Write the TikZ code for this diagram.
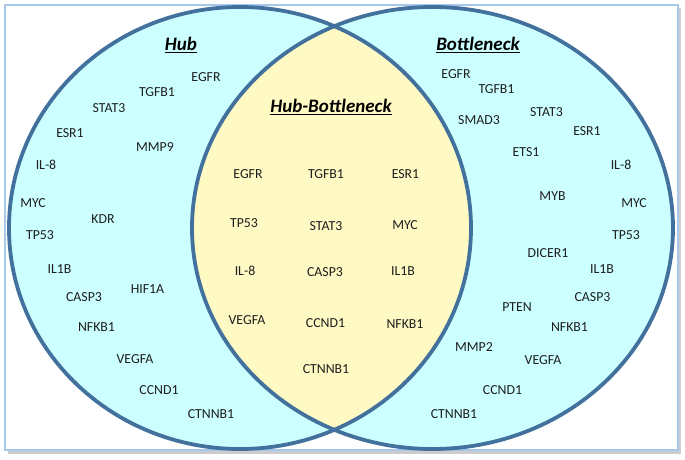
\documentclass[tikz,border=0pt]{standalone}
\usepackage{fontspec}
\setmainfont{Carlito}
\definecolor{ring}{RGB}{65,113,156}
\definecolor{cyanfill}{RGB}{204,255,255}
\definecolor{yellowfill}{RGB}{255,250,196}
\definecolor{framecol}{RGB}{166,200,234}
\definecolor{shadowcol}{RGB}{170,170,175}
\definecolor{textcol}{RGB}{30,30,30}
\newcommand{\titleul}[1]{\leavevmode\setbox0=\hbox{#1}\rlap{\rule[-3pt]{\wd0}{1.4pt}}\box0}
\begin{document}
\begin{tikzpicture}[x=1pt,y=-1pt,
  gene/.style={font=\fontsize{13.8}{16}\selectfont, text=textcol, inner sep=0pt},
  settitle/.style={font=\fontsize{19}{22}\selectfont\bfseries\itshape, text=black, inner sep=0pt},
  ringline/.style={draw=ring, line width=3.8pt}]
\useasboundingbox (0,0) rectangle (685,460);
% frame with shadow
\fill[shadowcol!60] (8,8) rectangle (681,454);
\draw[framecol, line width=1.6pt, fill=white] (5,5) rectangle (678,450);
% ellipses
\fill[cyanfill] (240,228) ellipse [x radius=231pt, y radius=221pt];
\fill[cyanfill] (432.5,228) ellipse [x radius=240.5pt, y radius=221pt];
\begin{scope}
  \clip (240,228) ellipse [x radius=231pt, y radius=221pt];
  \fill[yellowfill] (432.5,228) ellipse [x radius=240.5pt, y radius=221pt];
\end{scope}
\draw[ringline] (240,228) ellipse [x radius=231pt, y radius=221pt];
\draw[ringline] (432.5,228) ellipse [x radius=240.5pt, y radius=221pt];
% titles
\node[settitle] (thub) at (181,45) {\titleul{Hub}};
\node[settitle] (tbot) at (478,45) {\titleul{Bottleneck}};
\node[settitle] (thb) at (331,107) {\titleul{Hub-Bottleneck}};
% Hub only
\node[gene] (h1) at (206,77) {EGFR};
\node[gene] (h2) at (157,92) {TGFB1};
\node[gene] (h3) at (109,108) {STAT3};
\node[gene] (h4) at (70,133) {ESR1};
\node[gene] (h5) at (155,147) {MMP9};
\node[gene] (h6) at (46,165) {IL-8};
\node[gene] (h7) at (33,203) {MYC};
\node[gene] (h8) at (103,219) {KDR};
\node[gene] (h9) at (40,235) {TP53};
\node[gene] (h10) at (59.5,269) {IL1B};
\node[gene] (h11) at (84,297) {CASP3};
\node[gene] (h12) at (147.5,289) {HIF1A};
\node[gene] (h13) at (96.5,327) {NFKB1};
\node[gene] (h14) at (135,359) {VEGFA};
\node[gene] (h15) at (159,390) {CCND1};
\node[gene] (h16) at (211,414) {CTNNB1};
% Hub-Bottleneck
\node[gene] (c1) at (248,174) {EGFR};
\node[gene] (c2) at (326,174) {TGFB1};
\node[gene] (c3) at (405.5,174) {ESR1};
\node[gene] (c4) at (244,223) {TP53};
\node[gene] (c5) at (326,226) {STAT3};
\node[gene] (c6) at (405,225) {MYC};
\node[gene] (c7) at (245,271) {IL-8};
\node[gene] (c8) at (325,272) {CASP3};
\node[gene] (c9) at (403,271) {IL1B};
\node[gene] (c10) at (247,320) {VEGFA};
\node[gene] (c11) at (325.5,323) {CCND1};
\node[gene] (c12) at (405,324) {NFKB1};
\node[gene] (c13) at (326,369) {CTNNB1};
% Bottleneck only
\node[gene] (b1) at (456,74) {EGFR};
\node[gene] (b2) at (496.5,89) {TGFB1};
\node[gene] (b3) at (479,120) {SMAD3};
\node[gene] (b4) at (546.5,112) {STAT3};
\node[gene] (b5) at (587,131) {ESR1};
\node[gene] (b6) at (526,152) {ETS1};
\node[gene] (b7) at (621,165) {IL-8};
\node[gene] (b8) at (552.5,196) {MYB};
\node[gene] (b9) at (634,203) {MYC};
\node[gene] (b10) at (626,235) {TP53};
\node[gene] (b11) at (548,253) {DICER1};
\node[gene] (b12) at (602,269) {IL1B};
\node[gene] (b13) at (592.5,297) {CASP3};
\node[gene] (b14) at (517,307) {PTEN};
\node[gene] (b15) at (569.5,327) {NFKB1};
\node[gene] (b16) at (474,347) {MMP2};
\node[gene] (b17) at (543,360) {VEGFA};
\node[gene] (b18) at (502.5,390) {CCND1};
\node[gene] (b19) at (454,414) {CTNNB1};
\end{tikzpicture}
\end{document}
